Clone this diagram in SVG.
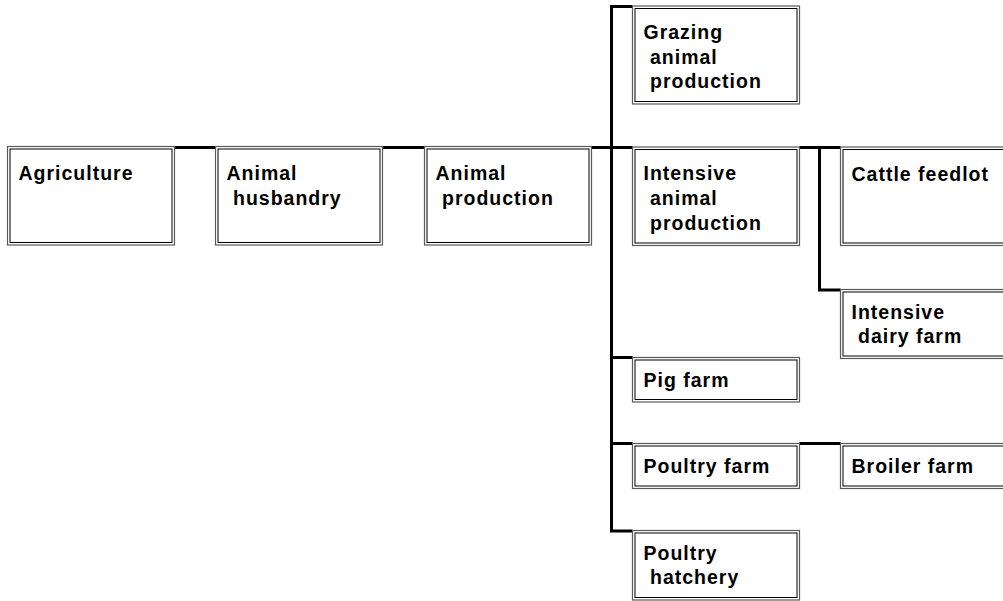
<svg xmlns="http://www.w3.org/2000/svg" width="1003" height="601" viewBox="0 0 1003 601">
<style>
.o{fill:#fff;stroke:#5a5a5a;stroke-width:1.2}
.i{fill:none;stroke:#000;stroke-width:1}
.t{font-family:"Liberation Sans",Arial,sans-serif;font-weight:bold;font-size:19.5px;letter-spacing:1px;fill:#000}
.c{fill:none;stroke:#000;stroke-width:3;stroke-linejoin:miter}
</style>
<rect width="1003" height="601" fill="#fff"/>
<g id="connectors">
<path class="c" d="M174.5,147.5H215.5M382.5,147.5H424.5M591.5,147.5H632.5M799.5,147.5H840.5"/>
<path class="c" d="M632.5,6.5H611.5V531H632.5M611.5,357.5H632.5M611.5,443.5H632.5"/>
<path class="c" d="M799.5,443.5H840.5"/>
<path class="c" d="M819.5,147.5V290H840.5"/>
</g>
<g id="agriculture"><rect class="o" x="7.5" y="146.5" width="167" height="98.5"/><rect class="i" x="10" y="149" width="162" height="93.5"/><text class="t" x="18.5" y="180">Agriculture</text></g>
<g id="animal-husbandry"><rect class="o" x="215.5" y="146.5" width="167" height="98.5"/><rect class="i" x="218" y="149" width="162" height="93.5"/><text class="t" x="226.5" y="180">Animal<tspan x="233" dy="24.5">husbandry</tspan></text></g>
<g id="animal-production"><rect class="o" x="424.5" y="146.5" width="167" height="98.5"/><rect class="i" x="427" y="149" width="162" height="93.5"/><text class="t" x="435.5" y="180">Animal<tspan x="442" dy="24.5">production</tspan></text></g>
<g id="grazing"><rect class="o" x="632.5" y="6" width="167" height="98"/><rect class="i" x="635" y="8.5" width="162" height="93"/><text class="t" x="643.5" y="39">Grazing<tspan x="650" dy="24.5">animal</tspan><tspan x="650" dy="24.5">production</tspan></text></g>
<g id="intensive-animal-production"><rect class="o" x="632.5" y="147" width="167" height="98.5"/><rect class="i" x="635" y="149.5" width="162" height="93.5"/><text class="t" x="643.5" y="180">Intensive<tspan x="650" dy="25">animal</tspan><tspan x="650" dy="25">production</tspan></text></g>
<g id="cattle-feedlot"><rect class="o" x="840.5" y="147" width="167" height="98.5"/><rect class="i" x="843" y="149.5" width="162" height="93.5"/><text class="t" x="851.5" y="180.5">Cattle feedlot</text></g>
<g id="intensive-dairy-farm"><rect class="o" x="840.5" y="289.5" width="167" height="69"/><rect class="i" x="843" y="292" width="162" height="64"/><text class="t" x="851.5" y="318.5">Intensive<tspan x="858" dy="24.5">dairy farm</tspan></text></g>
<g id="pig-farm"><rect class="o" x="632.5" y="357.5" width="167" height="44.5"/><rect class="i" x="635" y="360" width="162" height="39.5"/><text class="t" x="643.5" y="386.5">Pig farm</text></g>
<g id="poultry-farm"><rect class="o" x="632.5" y="443.5" width="167" height="45"/><rect class="i" x="635" y="446" width="162" height="40"/><text class="t" x="643.5" y="472.5">Poultry farm</text></g>
<g id="broiler-farm"><rect class="o" x="840.5" y="443.5" width="167" height="45"/><rect class="i" x="843" y="446" width="162" height="40"/><text class="t" x="851.5" y="472.5">Broiler farm</text></g>
<g id="poultry-hatchery"><rect class="o" x="632.5" y="530.5" width="167" height="69.5"/><rect class="i" x="635" y="533" width="162" height="64.5"/><text class="t" x="643.5" y="559.5">Poultry<tspan x="650" dy="24.5">hatchery</tspan></text></g>
</svg>
